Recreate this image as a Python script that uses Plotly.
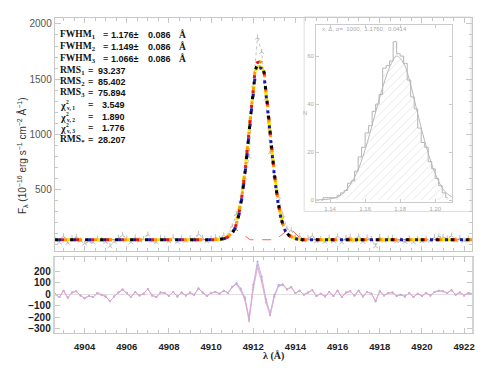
import numpy as np
import plotly.graph_objects as go

W, H = 490, 368
OFF = 8                      # default page margin of the html body
FW, FH = W - OFF, H - OFF

# ---- spectrum data ----
wave = np.round(4902.6 + 0.2 * np.arange(100), 1)

obs_flux = [45, 20, 75, 15, 60, 70, 35, 10, 30, 20,
            55, 40, 25, -15, 25, 60, 85, 55, 20, 65,
            35, 50, 90, 35, 20, 60, 55, 30, 65, 25,
            60, 35, 60, 40, 95, 60, 30, 55,
            66, 53, 85, 80, 165, 277, 402, 605, 796, 1441,
            1875, 1745, 1321, 836, 625, 432, 267, 145, 130, 65, 78,
            40, 60, 80, 30, 50, 25, 65, 30, 75, 20,
            60, 70, 35, 75, 25, 65, 50, -15, 70, 35,
            55, 60, 30, 40, 25, 55, 20, 50, 30, 55,
            35, 65, 75, 70, 55, 80, 40, 60, 35, 55, 50]

continuum = 45
# fitted profiles between 4910.2 and 4914.2 A (21 samples)
fit_black_core = [46, 48, 55, 70, 105, 187, 362, 645, 1016, 1381, 1625,
                  1625, 1381, 1016, 645, 362, 187, 105, 70, 55, 48]
fit_blue_core = [46, 48, 54, 68, 100, 180, 352, 632, 1000, 1360, 1592,
                 1595, 1362, 1000, 630, 352, 180, 100, 68, 54, 48]
fit_red_core = [46, 48, 55, 70, 104, 190, 370, 655, 1030, 1400, 1650,
                1640, 1395, 1020, 645, 360, 186, 104, 70, 55, 48]
fit_orange_core = [46, 49, 57, 74, 110, 195, 372, 650, 1025, 1395, 1655,
                   1648, 1390, 1022, 650, 366, 190, 108, 72, 56, 48]
fit_yellow_core = [46, 50, 60, 80, 125, 215, 395, 680, 1040, 1390, 1610,
                   1605, 1380, 1020, 660, 380, 200, 115, 78, 58, 49]

# dashed red component
comp_wave = [4902.6, 4910.6, 4911.1, 4911.85, 4913.05, 4913.75, 4914.3, 4922.4]
comp_flux = [45, 45, 150, 45, 45, 150, 45, 45]

# ---- inset histogram ----
hist_counts = [0, 1, 1, 1, 1, 2, 3, 4, 7, 8, 12, 18, 22, 28, 31, 37, 40, 44, 55,
               56, 58, 66, 61, 60, 57, 50, 43, 38, 30, 24, 22, 16, 13, 9, 6, 3, 1]
hist_centers = np.round(1.135 + 0.002 * np.arange(len(hist_counts)), 3)
curve_x = [1.130, 1.140, 1.145, 1.150, 1.155, 1.160, 1.165, 1.170, 1.175,
           1.178, 1.182, 1.186, 1.190, 1.195, 1.200, 1.205, 1.210]
curve_y = [0, 0.5, 1.5, 5, 11, 21, 34, 47, 57, 60, 57, 48, 36, 22, 11, 4, 1]

fwhm_vals = ["1.176", "1.149", "1.066"]
fwhm_err = "0.086"
rms_vals = ["93.237", "85.402", "75.894"]
chi_vals = ["3.549", "1.890", "1.776"]
rms_star = "28.207"


def full(core):
    return [continuum] * 38 + core + [continuum] * 41


def fx(x):
    return (x - OFF) / FW


def fy(y):
    return 1 - (y - OFF) / FH


fits = [(full(fit_yellow_core), '#f2e200', '0px,12px,3px'),
        (full(fit_orange_core), '#ff9a00', '0px,9px,3px,3px'),
        (full(fit_red_core), '#e8141c', '0px,6px,3px,6px'),
        (full(fit_blue_core), '#1a1aa6', '0px,3px,3px,9px'),
        (full(fit_black_core), '#000000', '3px,12px')]

fig = go.Figure()

fig.add_trace(go.Scatter(x=wave, y=obs_flux, mode='lines+markers',
                         line=dict(color='#b0b0b0', width=0.8, dash='dot'),
                         marker=dict(symbol='y-up-open', size=4,
                                     line=dict(color='#a0a0a0', width=0.8)),
                         xaxis='x', yaxis='y'))
fig.add_trace(go.Scatter(x=comp_wave, y=comp_flux, mode='lines',
                         line=dict(color='#ff6060', width=1, dash='dash'),
                         xaxis='x', yaxis='y'))
for vals, col, dash in fits:
    fig.add_trace(go.Scatter(x=wave, y=vals, mode='lines',
                             line=dict(color=col, width=3, dash=dash, shape='spline'),
                             xaxis='x', yaxis='y'))

# residuals
obs = np.array(obs_flux)
for vals, col in [(full(fit_blue_core), '#a8a8f4'), (full(fit_red_core), '#f6b0b0'),
                  (full(fit_black_core), '#d4a8d6')]:
    fig.add_trace(go.Scatter(x=wave, y=obs - np.array(vals), mode='lines+markers',
                             line=dict(color=col, width=0.8),
                             marker=dict(size=2, color=col),
                             xaxis='x2', yaxis='y2'))

# inset histogram: hatched bars + step outline
fig.add_trace(go.Bar(x=hist_centers, y=hist_counts, width=0.002,
                     marker=dict(color='white', line=dict(width=0),
                                 pattern=dict(shape='/', fgcolor='#c8c8c8', size=6,
                                              solidity=0.15)),
                     xaxis='x3', yaxis='y3'))
fig.add_trace(go.Scatter(x=hist_centers, y=hist_counts, mode='lines',
                         line=dict(color='#b4b4b4', width=1, shape='hvh'),
                         xaxis='x3', yaxis='y3'))
fig.add_trace(go.Scatter(x=curve_x, y=curve_y, mode='lines',
                         line=dict(color='#b8b8b8', width=1, shape='spline'),
                         xaxis='x3', yaxis='y3'))

frame = '#c8c8c8'
fig.update_layout(
    width=FW, height=FH, margin=dict(l=0, r=0, t=0, b=0),
    paper_bgcolor='white', plot_bgcolor='white', showlegend=False,
    xaxis=dict(domain=[fx(55), fx(475)], range=[4902.58, 4922.38], anchor='y',
               showticklabels=False, showgrid=False, zeroline=False,
               showline=True, linecolor=frame, mirror='ticks',
               ticks='inside', ticklen=5, tickcolor=frame, dtick=2, tick0=4902,
               minor=dict(ticks='inside', ticklen=3, dtick=0.5, tickcolor=frame)),
    yaxis=dict(domain=[fy(252), fy(18)], range=[-60, 2054], anchor='x',
               tickvals=[500, 1000, 1500, 2000],
               tickfont=dict(family='Liberation Sans', size=10, color='#555555'),
               showgrid=False, zeroline=False, showline=True, linecolor=frame,
               mirror='ticks', ticks='inside', ticklen=6, tickcolor=frame,
               minor=dict(ticks='inside', ticklen=3, dtick=100, tickcolor=frame)),
    xaxis2=dict(domain=[fx(55), fx(475)], range=[4902.58, 4922.38], anchor='y2',
                matches='x', tickvals=list(range(4904, 4923, 2)),
                ticktext=['<b>%d</b>' % v for v in range(4904, 4923, 2)],
                tickfont=dict(family='Liberation Sans', size=9.5, color='#222222'),
                ticklabelstandoff=5,
                showgrid=False, zeroline=False, showline=True, linecolor=frame,
                mirror='ticks', ticks='inside', ticklen=5, tickcolor=frame,
                minor=dict(ticks='inside', ticklen=3, dtick=0.5, tickcolor=frame)),
    yaxis2=dict(domain=[fy(334), fy(258)], range=[-336, 319], anchor='x2',
                tickvals=[-300, -200, -100, 0, 100, 200],
                ticktext=['<b>%s</b>' % ('−%d' % -v if v < 0 else str(v))
                          for v in [-300, -200, -100, 0, 100, 200]],
                tickfont=dict(family='Liberation Sans', size=10, color='#222222'),
                showgrid=False, zeroline=True, zerolinecolor='#e0e0e0', zerolinewidth=1,
                showline=True, linecolor='#d4d4d4', linewidth=2, mirror='ticks',
                ticks='inside', ticklen=5, tickcolor=frame),
    xaxis3=dict(domain=[fx(318), fx(455)], range=[1.132, 1.2097], anchor='y3',
                tickvals=[1.14, 1.16, 1.18, 1.20], ticktext=['1.14', '1.16', '1.18', '1.20'],
                tickfont=dict(family='Liberation Sans', size=6, color='#aaaaaa'),
                showgrid=False, zeroline=False, showline=True, linecolor='#cccccc',
                mirror='ticks', ticks='inside', ticklen=3, tickcolor='#cccccc'),
    yaxis3=dict(domain=[fy(203), fy(25)], range=[-1, 73], anchor='x3',
                tickvals=[0, 20, 40, 60],
                tickfont=dict(family='Liberation Sans', size=6, color='#aaaaaa'),
                showgrid=False, zeroline=False, showline=True, linecolor='#cccccc',
                mirror='ticks', ticks='inside', ticklen=3, tickcolor='#cccccc'),
    bargap=0,
)

fig.add_shape(type='rect', xref='paper', yref='paper',
              x0=fx(306), x1=fx(474), y0=fy(212), y1=fy(17),
              fillcolor='white', line=dict(color='#dddddd', width=1), layer='below')

SERIF = 'Liberation Serif'
SANS = 'Liberation Sans'
ann = []


def txt(text, x, y, family=SANS, size=9, anchor='left', color='#111111'):
    ann.append(dict(text=text, x=fx(x), y=fy(y), xanchor=anchor,
                    font=dict(family=family, size=size, color=color)))


# FWHM rows
for i, (yy, v) in enumerate(zip([35, 47, 59], fwhm_vals)):
    txt('<b>FWHM<sub>%d</sub></b>' % (i + 1), 58, yy, SERIF, 9.5)
    txt('<b>=</b>', 102, yy, SERIF, 9.5)
    txt('<b>%s±</b>' % v, 110, yy)
    txt('<b>%s</b>' % fwhm_err, 147, yy)
    txt('<b>Å</b>', 178, yy, SERIF, 9.5)
# RMS rows
for i, (yy, v) in enumerate(zip([71, 82, 93], rms_vals)):
    txt('<b>RMS<sub>%d</sub></b>' % (i + 1), 58, yy, SERIF, 9.5)
    txt('<b>=</b>', 86, yy, SERIF, 9.5)
    txt('<b>%s</b>' % v, 97, yy)
# reduced chi-square rows (stacked super/subscripts)
for i, (yy, v) in enumerate(zip([105, 117, 128], chi_vals)):
    txt('<b>χ</b>', 58, yy + 1, SERIF, 10)
    txt('<b>2</b>', 64, yy - 3, SERIF, 5.5)
    txt('<b>ν, %d</b>' % (i + 1), 64, yy + 3.5, SERIF, 5.5)
    txt('<b>=</b>', 86, yy, SERIF, 9.5)
    txt('<b>%s</b>' % v, 128, yy, anchor='right')
txt('<b>RMS<sub>*</sub></b>', 58, 140, SERIF, 9.5)
txt('<b>=</b>', 86, 140, SERIF, 9.5)
txt('<b>%s</b>' % rms_star, 97, 140)

ann.append(dict(text='F<sub>λ</sub> (10<sup>−16</sup> erg s<sup>−1</sup> cm<sup>−2</sup> Å<sup>−1</sup>)',
                x=fx(14), y=fy(156), textangle=-90,
                font=dict(family=SANS, size=10, color='#333333')))
txt('<b>λ (Å)</b>', 275, 357, SERIF, 10, 'center', '#222222')
txt('x, Δ, σ=  1000,  1.1760,  0.0414', 322, 29, SANS, 6, 'left', '#aaaaaa')
txt('N', 307, 113, SANS, 6, 'center', '#aaaaaa')
for a in ann:
    a.update(xref='paper', yref='paper', showarrow=False, yanchor='middle')
fig.update_layout(annotations=ann)

fig.write_html("out.html")
